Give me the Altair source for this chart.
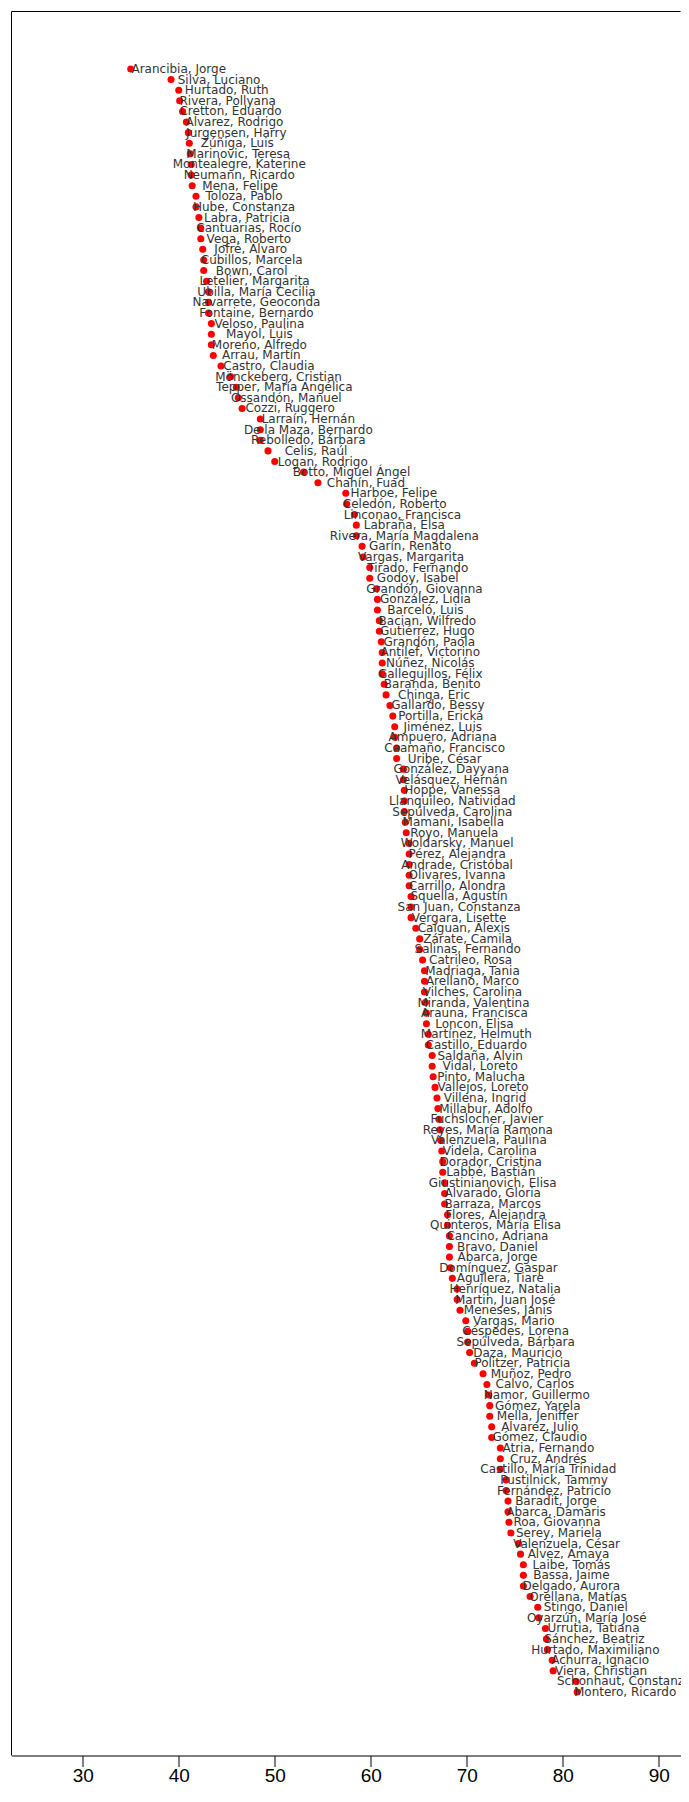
import altair as alt
import pandas as pd

names = [
    "Arancibia, Jorge", "Silva, Luciano", "Hurtado, Ruth", "Rivera, Pollyana", "Cretton, Eduardo",
    "Alvarez, Rodrigo", "Jurgensen, Harry", "Zúñiga, Luis", "Marinovic, Teresa", "Montealegre, Katerine",
    "Neumann, Ricardo", "Mena, Felipe", "Toloza, Pablo", "Hube, Constanza", "Labra, Patricia",
    "Cantuarias, Rocío", "Vega, Roberto", "Jofré, Alvaro", "Cubillos, Marcela", "Bown, Carol",
    "Letelier, Margarita", "Ubilla, María Cecilia", "Navarrete, Geoconda", "Fontaine, Bernardo", "Veloso, Paulina",
    "Mayol, Luis", "Moreno, Alfredo", "Arrau, Martín", "Castro, Claudia", "Mönckeberg, Cristian",
    "Tepper, María Angélica", "Ossandón, Manuel", "Cozzi, Ruggero", "Larraín, Hernán", "De la Maza, Bernardo",
    "Rebolledo, Bárbara", "Celis, Raúl", "Logan, Rodrigo", "Botto, Miguel Ángel", "Chahín, Fuad",
    "Harboe, Felipe", "Celedón, Roberto", "Linconao, Francisca", "Labraña, Elsa", "Rivera, María Magdalena",
    "Garín, Renato", "Vargas, Margarita", "Tirado, Fernando", "Godoy, Isabel", "Grandón, Giovanna",
    "González, Lidia", "Barceló, Luis", "Bacian, Wilfredo", "Gutiérrez, Hugo", "Grandón, Paola",
    "Antilef, Victorino", "Núñez, Nicolás", "Galleguillos, Félix", "Baranda, Benito", "Chinga, Eric",
    "Gallardo, Bessy", "Portilla, Ericka", "Jiménez, Luis", "Ampuero, Adriana", "Caamaño, Francisco",
    "Uribe, César", "González, Dayyana", "Velásquez, Hernán", "Hoppe, Vanessa", "Llanquileo, Natividad",
    "Sepúlveda, Carolina", "Mamani, Isabella", "Royo, Manuela", "Woldarsky, Manuel", "Pérez, Alejandra",
    "Andrade, Cristóbal", "Olivares, Ivanna", "Carrillo, Alondra", "Squella, Agustín", "San Juan, Constanza",
    "Vergara, Lisette", "Caiguan, Alexis", "Zárate, Camila", "Salinas, Fernando", "Catrileo, Rosa",
    "Madriaga, Tania", "Arellano, Marco", "Vilches, Carolina", "Miranda, Valentina", "Arauna, Francisca",
    "Loncon, Elisa", "Martínez, Helmuth", "Castillo, Eduardo", "Saldaña, Alvin", "Vidal, Loreto",
    "Pinto, Malucha", "Vallejos, Loreto", "Villena, Ingrid", "Millabur, Adolfo", "Fuchslocher, Javier",
    "Reyes, María Ramona", "Valenzuela, Paulina", "Videla, Carolina", "Dorador, Cristina", "Labbé, Bastián",
    "Giustinianovich, Elisa", "Alvarado, Gloria", "Barraza, Marcos", "Flores, Alejandra", "Quinteros, María Elisa",
    "Cancino, Adriana", "Bravo, Daniel", "Abarca, Jorge", "Domínguez, Gaspar", "Aguilera, Tiare",
    "Henríquez, Natalia", "Martin, Juan José", "Meneses, Janis", "Vargas, Mario", "Céspedes, Lorena",
    "Sepúlveda, Bárbara", "Daza, Mauricio", "Politzer, Patricia", "Muñoz, Pedro", "Calvo, Carlos",
    "Namor, Guillermo", "Gómez, Yarela", "Mella, Jeniffer", "Alvarez, Julio", "Gómez, Claudio",
    "Atria, Fernando", "Cruz, Andrés", "Castillo, María Trinidad", "Pustilnick, Tammy", "Fernández, Patricio",
    "Baradit, Jorge", "Abarca, Damaris", "Roa, Giovanna", "Serey, Mariela", "Valenzuela, César",
    "Alvez, Amaya", "Laibe, Tomás", "Bassa, Jaime", "Delgado, Aurora", "Orellana, Matías",
    "Stingo, Daniel", "Oyarzún, María José", "Urrutia, Tatiana", "Sánchez, Beatriz", "Hurtado, Maximiliano",
    "Achurra, Ignacio", "Viera, Christian", "Schonhaut, Constanza", "Montero, Ricardo",
]

values = [
    35.0, 39.2, 40.0, 40.1, 40.4, 40.8, 41.0, 41.1, 41.2, 41.3,
    41.3, 41.4, 41.8, 41.8, 42.1, 42.3, 42.3, 42.5, 42.6, 42.6,
    42.9, 43.1, 43.1, 43.1, 43.4, 43.4, 43.4, 43.6, 44.4, 45.4,
    46.0, 46.2, 46.6, 48.5, 48.5, 48.5, 49.3, 50.0, 53.0, 54.5,
    57.4, 57.5, 58.3, 58.5, 58.5, 59.1, 59.2, 59.9, 59.9, 60.6,
    60.7, 60.7, 60.9, 60.9, 61.1, 61.2, 61.2, 61.2, 61.4, 61.6,
    62.0, 62.3, 62.5, 62.5, 62.7, 62.7, 63.4, 63.4, 63.5, 63.5,
    63.5, 63.6, 63.7, 64.0, 64.0, 64.0, 64.0, 64.0, 64.2, 64.2,
    64.2, 64.7, 65.1, 65.1, 65.4, 65.6, 65.6, 65.6, 65.7, 65.8,
    65.8, 66.0, 66.0, 66.4, 66.4, 66.5, 66.7, 66.9, 67.0, 67.1,
    67.2, 67.3, 67.4, 67.5, 67.5, 67.7, 67.7, 67.7, 68.0, 68.0,
    68.2, 68.2, 68.2, 68.3, 68.5, 69.0, 69.0, 69.3, 69.9, 70.1,
    70.1, 70.3, 70.8, 71.7, 72.1, 72.3, 72.4, 72.4, 72.6, 72.6,
    73.5, 73.5, 73.5, 74.1, 74.1, 74.3, 74.3, 74.4, 74.6, 75.4,
    75.6, 75.9, 75.9, 75.9, 76.6, 77.4, 77.5, 78.2, 78.3, 78.4,
    78.9, 79.0, 81.4, 81.5,
]

x_ticks = [30, 40, 50, 60, 70, 80, 90]
label_offset = 5  # labels centred 5 units right of the point

n = min(len(names), len(values))
df = pd.DataFrame({"name": names[:n], "value": values[:n], "rank": list(range(1, n + 1))})

W = 669
H = 1744
x_min = 22.58
x_scale = alt.Scale(domain=[x_min, x_min + W / 9.6], nice=False, zero=False)
y_scale = alt.Scale(domain=[-4.42, 159.98], reverse=True, nice=False, zero=False)

x_axis = alt.Axis(values=x_ticks, title=None, grid=False, tickSize=11,
                  tickColor="black", domainColor="black", labelColor="black",
                  labelFontSize=19, labelFont="Liberation Sans", labelPadding=0,
                  labelFlush=False, domainWidth=1, tickWidth=1)

points = alt.Chart(df).mark_circle(size=50, color="#ff0000", opacity=1).encode(
    x=alt.X("value:Q", scale=x_scale, axis=x_axis),
    y=alt.Y("rank:Q", scale=y_scale, axis=None),
)

labels = alt.Chart(df).transform_calculate(
    lx=f"datum.value + {label_offset}"
).mark_text(align="center", baseline="middle", fontSize=12, font="DejaVu Sans",
            color="#333333").encode(
    x=alt.X("lx:Q", scale=x_scale, axis=x_axis),
    y=alt.Y("rank:Q", scale=y_scale, axis=None),
    text="name:N",
)

border_df = pd.DataFrame({"k": [0]})
left_border = alt.Chart(border_df).mark_rule(color="black", strokeWidth=1).encode(
    x=alt.value(0), y=alt.value(0), y2=alt.value(H)
)
top_border = alt.Chart(border_df).mark_rule(color="black", strokeWidth=1).encode(
    x=alt.value(0), x2=alt.value(W), y=alt.value(0)
)

chart = alt.layer(points, labels, left_border, top_border).properties(
    width=W, height=H,
    padding={"left": 3.5, "top": 3.5, "right": 0, "bottom": 31.5},
    autosize=alt.AutoSizeParams(type="none"),
    background="white",
).configure_view(stroke=None)

chart.save("out.html", embed_options={"renderer": "svg", "actions": False})
